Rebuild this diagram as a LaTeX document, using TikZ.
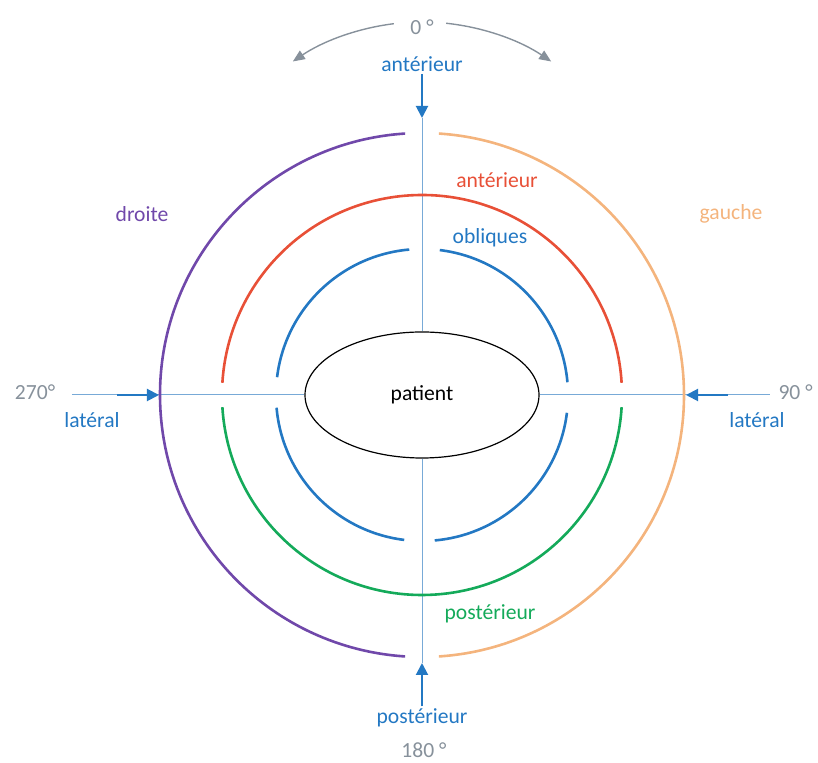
\documentclass[tikz,border=0pt]{standalone}
\usepackage{fontspec}
\setmainfont{Carlito}
\usetikzlibrary{arrows.meta,shapes.geometric}
\definecolor{axisblue}{RGB}{120,170,215}
\definecolor{markblue}{RGB}{35,120,195}
\definecolor{ringpurple}{RGB}{112,72,170}
\definecolor{ringorange}{RGB}{244,180,125}
\definecolor{ringred}{RGB}{232,80,55}
\definecolor{ringgreen}{RGB}{20,170,90}
\definecolor{degreegray}{RGB}{135,145,155}

\begin{document}
\begin{tikzpicture}[x=0.5pt,y=0.5pt,
  every node/.style={font=\fontsize{10.8}{13}\selectfont,inner sep=1pt},
  axis/.style={draw=axisblue,line width=0.5pt},
  pointer/.style={draw=markblue,line width=1pt,-{Triangle[length=6pt,width=6pt]}},
  ring/.style={line width=1.3pt},
  sweep/.style={draw=degreegray,line width=0.7pt,-{Triangle[length=6pt,width=5pt]}}]
\useasboundingbox (-422,-368) rectangle (396,395);
% patient and axes
\node[ellipse,draw,line width=0.6pt,minimum width=117pt,minimum height=63pt] (patient) at (0,0) {patient};
\node[markblue] (antTop) at (0,331) {antérieur};
\node[markblue] (postBot) at (0,-323) {postérieur};
\coordinate (topTip) at (0,277);
\coordinate (botTip) at (0,-268);
\coordinate (leftEnd) at (-350,0);
\coordinate (leftTail) at (-305,0);
\coordinate (leftTip) at (-263,0);
\coordinate (rightEnd) at (348,0);
\coordinate (rightTail) at (306,0);
\coordinate (rightTip) at (264,0);
\draw[axis] (topTip) -- (patient.north);
\draw[axis] (patient.south) -- (botTip);
\draw[axis] (leftEnd) -- (patient.west);
\draw[axis] (patient.east) -- (rightEnd);
\draw[pointer] (antTop.south) -- (topTip);
\draw[pointer] (postBot.north) -- (botTip);
\draw[pointer] (leftTail) -- (leftTip);
\draw[pointer] (rightTail) -- (rightTip);
% rings
\draw[ring,ringpurple] (93.7:262) arc[start angle=93.7,end angle=266.3,radius=262];
\draw[ring,ringorange] (-86.3:262) arc[start angle=-86.3,end angle=86.3,radius=262];
\draw[ring,ringred] (3.5:200) arc[start angle=3.5,end angle=176.5,radius=200];
\draw[ring,ringgreen] (183.5:200) arc[start angle=183.5,end angle=356.5,radius=200];
\foreach \a in {0,90,180,270}
  \draw[ring,markblue] (\a+5:146) arc[start angle=\a+5,end angle=\a+83,radius=146];
% degree sweep
\node[degreegray] (zero) at (0,368) {0 °};
\draw[sweep,shift={(0,142)}] (97:231) arc[start angle=97,end angle=124,radius=231];
\draw[sweep,shift={(0,142)}] (84:231) arc[start angle=84,end angle=56,radius=231];
% labels
\node[ringpurple] (droite) at (-280,181) {droite};
\node[ringorange] (gauche) at (309,181) {gauche};
\node[ringred] (antRing) at (75,215) {antérieur};
\node[markblue] (obliques) at (68,157) {obliques};
\node[ringgreen] (postRing) at (68,-219) {postérieur};
\node[degreegray] (deg270) at (-387,3) {270°};
\node[markblue] (latLeft) at (-330,-25) {latéral};
\node[degreegray,anchor=east] (deg90) at (393,3) {90 °};
\node[markblue] (latRight) at (335,-25) {latéral};
\node[degreegray] (deg180) at (2,-355) {180 °};
\end{tikzpicture}
\end{document}
